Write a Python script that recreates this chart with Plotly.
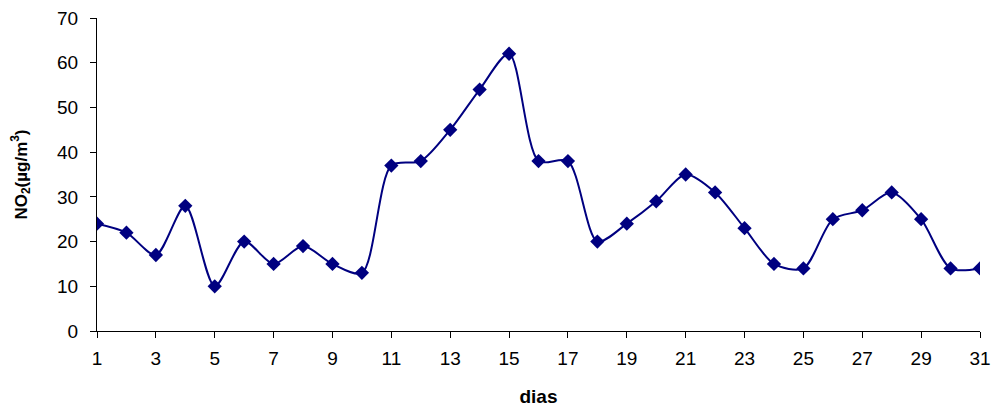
import plotly.graph_objects as go

dias = list(range(1, 32))
no2 = [24, 22, 17, 28, 10, 20, 15, 19, 15, 13, 37, 38, 45, 54, 62, 38, 38, 20, 24, 29,
       35, 31, 23, 15, 14, 25, 27, 31, 25, 14, 14]
x_ticks = list(range(1, 32, 2))
y_ticks = list(range(0, 71, 10))

fig = go.Figure()
fig.add_trace(go.Scatter(
    x=dias, y=no2, mode="lines+markers",
    line=dict(color="#000080", width=2, shape="spline", smoothing=0.8),
    marker=dict(symbol="diamond", size=11, color="#000080"),
    showlegend=False,
))

font = "Liberation Sans, Arial, sans-serif"
fig.update_layout(
    width=991, height=404,
    margin=dict(l=89, r=19, t=10, b=81),
    plot_bgcolor="white", paper_bgcolor="white",
    font=dict(family=font, size=19, color="black"),
)
fig.update_xaxes(
    range=[1, 31], tickvals=x_ticks, ticktext=[str(v) for v in x_ticks],
    showgrid=False, zeroline=False, showline=True, linecolor="black", linewidth=1,
    ticks="outside", ticklen=6, tickcolor="black", automargin=False,
    ticklabelstandoff=4, ticklabeloverflow="allow",
    title=dict(text="<b>dias</b>", font=dict(size=19), standoff=21),
)
fig.update_yaxes(
    range=[0, 70], tickvals=y_ticks,
    showgrid=False, zeroline=False, showline=True, linecolor="black", linewidth=1,
    ticks="outside", ticklen=6, tickcolor="black", automargin=False,
    ticklabelstandoff=8, ticklabeloverflow="allow",
    title=dict(text="<b>NO<sub>2</sub>(µg/m<sup>3</sup>)</b>", font=dict(size=17), standoff=25),
)
fig.write_html("out.html")
